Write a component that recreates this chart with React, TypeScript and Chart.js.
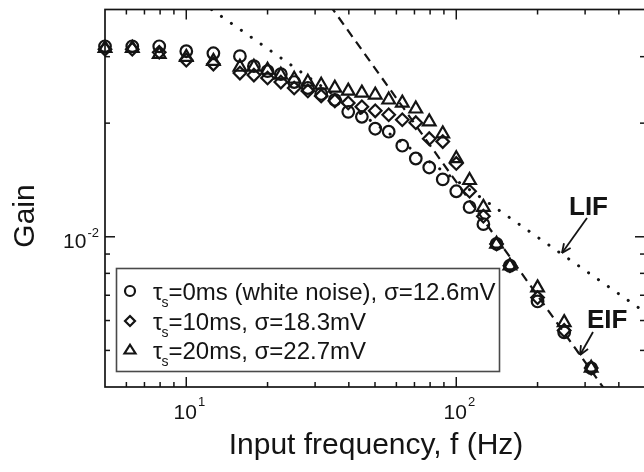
import React, { useEffect, useRef } from 'react';
import { Chart, registerables } from 'chart.js';

Chart.register(...registerables);

// ---------- data ----------
const freqs = [5, 6.31, 7.94, 10, 12.6, 15.8, 17.8, 20, 22.4, 25.1, 28.2, 31.6, 35.5, 39.8, 44.7, 50.1, 56.2, 63.1, 70.8, 79.4, 89.1, 100, 112, 126, 141, 158, 200, 251, 316];
const gainTau0 = [0.03196, 0.03196, 0.03196, 0.03101, 0.03063, 0.03009, 0.02831, 0.02747, 0.02698, 0.0257, 0.02478, 0.0239, 0.02305, 0.02143, 0.02079, 0.01933, 0.01898, 0.01743, 0.01612, 0.01526, 0.01419, 0.0132, 0.01198, 0.0108, 0.00957, 0.00838, 0.00674, 0.00558, 0.00449];
const gainTau10 = [0.03139, 0.03139, 0.03082, 0.02937, 0.02867, 0.02715, 0.02682, 0.02634, 0.0257, 0.02478, 0.02434, 0.02361, 0.02291, 0.02263, 0.0221, 0.02156, 0.02105, 0.02042, 0.02005, 0.01819, 0.01787, 0.01564, 0.0132, 0.01134, 0.00957, 0.00838, 0.0069, 0.00565, 0.00449];
const gainTau20 = [0.03159, 0.03159, 0.03045, 0.02991, 0.02919, 0.02815, 0.02815, 0.02764, 0.02682, 0.02618, 0.0257, 0.02524, 0.02478, 0.02434, 0.02405, 0.02376, 0.02305, 0.02263, 0.02182, 0.02018, 0.01876, 0.01612, 0.01411, 0.01198, 0.00957, 0.00838, 0.00733, 0.00593, 0.00449];

// theory asymptotes (end points of straight log-log lines)
const lifFreq = [12.4, 520];
const lifGain = [0.04, 0.00619];
const eifFreq = [34, 360];
const eifGain = [0.0411, 0.00388];

const legendLabels = [
  ['=0ms (white noise), \u03c3=12.6mV'],
  ['=10ms, \u03c3=18.3mV'],
  ['=20ms, \u03c3=22.7mV'],
];
const xMajorTicks = [10, 100];
const xMajorExps = ['1', '2'];
const xMinorTicks = [6, 7, 8, 9, 20, 30, 40, 50, 60, 70, 80, 90, 200, 300, 400];
const yMajorTicks = [0.01];
const yMajorExps = ['-2'];
const yMinorTicks = [0.005, 0.006, 0.007, 0.008, 0.009, 0.02, 0.03];

const W = 660;
const H = 472;
const INK = '#141414';
const FONT = '"Liberation Sans", Arial, Helvetica, sans-serif';

const toXY = (xs: number[], ys: number[]) => xs.map((v, i) => ({ x: v, y: ys[i] }));

function line(ctx: CanvasRenderingContext2D, x1: number, y1: number, x2: number, y2: number) {
  ctx.beginPath();
  ctx.moveTo(x1, y1);
  ctx.lineTo(x2, y2);
  ctx.stroke();
}

function arrow(ctx: CanvasRenderingContext2D, x1: number, y1: number, x2: number, y2: number) {
  line(ctx, x1, y1, x2, y2);
  const ang = Math.atan2(y2 - y1, x2 - x1);
  const L = 10;
  const s = 0.42;
  line(ctx, x2, y2, x2 - L * Math.cos(ang - s), y2 - L * Math.sin(ang - s));
  line(ctx, x2, y2, x2 - L * Math.cos(ang + s), y2 - L * Math.sin(ang + s));
}

function drawMarker(ctx: CanvasRenderingContext2D, kind: string, x: number, y: number, r: number) {
  ctx.beginPath();
  if (kind === 'circle') {
    ctx.arc(x, y, r, 0, Math.PI * 2);
  } else if (kind === 'diamond') {
    ctx.moveTo(x, y - r);
    ctx.lineTo(x + r, y);
    ctx.lineTo(x, y + r);
    ctx.lineTo(x - r, y);
    ctx.closePath();
  } else {
    const h = r * 1.6;
    ctx.moveTo(x, y - h * 0.6);
    ctx.lineTo(x + r, y + h * 0.4);
    ctx.lineTo(x - r, y + h * 0.4);
    ctx.closePath();
  }
  ctx.stroke();
}

const overlay = {
  id: 'overlay',
  afterDraw(chart: any) {
    const { ctx, chartArea: a } = chart;
    const xs = chart.scales.x;
    const ys = chart.scales.y;
    ctx.save();
    ctx.strokeStyle = INK;
    ctx.fillStyle = INK;
    ctx.lineWidth = 1.7;
    ctx.lineCap = 'butt';
    // frame
    ctx.strokeRect(a.left, a.top, a.right - a.left, a.bottom - a.top);

    ctx.lineWidth = 1.5;
    // x ticks (bottom & top, inward)
    const xt = (v: number, len: number) => {
      const px = xs.getPixelForValue(v);
      line(ctx, px, a.bottom, px, a.bottom - len);
      line(ctx, px, a.top, px, a.top + len);
    };
    xMinorTicks.forEach((v) => xt(v, 5));
    xMajorTicks.forEach((v) => xt(v, 10));
    const yt = (v: number, len: number) => {
      const py = ys.getPixelForValue(v);
      line(ctx, a.left, py, a.left + len, py);
      line(ctx, a.right, py, a.right - len, py);
    };
    yMinorTicks.forEach((v) => yt(v, 5));
    yMajorTicks.forEach((v) => yt(v, 10));

    // tick labels
    ctx.textBaseline = 'alphabetic';
    xMajorTicks.forEach((v, i) => {
      const px = xs.getPixelForValue(v);
      ctx.font = `21px ${FONT}`;
      ctx.textAlign = 'center';
      ctx.fillText('10', px - 1, a.bottom + 32);
      const bw = ctx.measureText('10').width;
      ctx.font = `13px ${FONT}`;
      ctx.textAlign = 'left';
      ctx.fillText(xMajorExps[i], px - 1 + bw / 2 + 1, a.bottom + 19);
    });
    yMajorTicks.forEach((v, i) => {
      const py = ys.getPixelForValue(v);
      ctx.font = `13px ${FONT}`;
      ctx.textAlign = 'right';
      const right = a.left - 6;
      ctx.fillText(yMajorExps[i], right, py);
      const sw = ctx.measureText(yMajorExps[i]).width;
      ctx.font = `21px ${FONT}`;
      ctx.fillText('10', right - sw - 1, py + 11);
    });

    // axis titles
    ctx.font = `30px ${FONT}`;
    ctx.textAlign = 'center';
    ctx.textBaseline = 'middle';
    ctx.fillText('Input frequency, f (Hz)', 376, 446);
    ctx.save();
    ctx.translate(26, 216);
    ctx.rotate(-Math.PI / 2);
    ctx.fillText('Gain', 0, 0);
    ctx.restore();

    // LIF / EIF annotations
    ctx.font = `bold 26px ${FONT}`;
    ctx.textAlign = 'left';
    ctx.textBaseline = 'alphabetic';
    ctx.fillText('LIF', 569, 215);
    ctx.fillText('EIF', 587, 328);
    ctx.lineWidth = 1.8;
    arrow(ctx, 587, 218, 562, 253);
    arrow(ctx, 593, 332, 580, 355);

    // legend
    const lx = 116.5, ly = 268.5, lw = 383, lh = 103;
    ctx.fillStyle = '#fff';
    ctx.fillRect(lx, ly, lw, lh);
    ctx.strokeStyle = '#4a4a4a';
    ctx.lineWidth = 1.6;
    ctx.strokeRect(lx, ly, lw, lh);
    ctx.strokeStyle = INK;
    ctx.fillStyle = INK;
    const kinds = ['circle', 'diamond', 'triangle'];
    const rows = [291, 321, 350];
    rows.forEach((cy, i) => {
      ctx.lineWidth = 2.2;
      drawMarker(ctx, kinds[i], 130, cy, kinds[i] === 'circle' ? 5 : kinds[i] === 'diamond' ? 5 : 5.5);
      const base = cy + 8.5;
      ctx.font = `24px ${FONT}`;
      ctx.textAlign = 'left';
      ctx.fillText('\u03c4', 153, base);
      let x = 153 + ctx.measureText('\u03c4').width;
      ctx.font = `14px ${FONT}`;
      ctx.fillText('s', x - 1, base + 7);
      x += ctx.measureText('s').width - 1;
      ctx.font = `24px ${FONT}`;
      ctx.fillText(legendLabels[i][0], x, base);
    });
    ctx.restore();
  },
};

export default function App() {
  const ref = useRef<HTMLCanvasElement | null>(null);
  useEffect(() => {
    if (!ref.current) return;
    const markerCommon = {
      showLine: false,
      borderColor: INK,
      backgroundColor: 'rgba(0,0,0,0)',
      pointBorderWidth: 2.2,
      clip: false as any,
    };
    const chart = new Chart(ref.current, {
      type: 'scatter',
      data: {
        datasets: [
          {
            label: 'LIF',
            data: toXY(lifFreq, lifGain),
            showLine: true,
            borderColor: INK,
            borderWidth: 3,
            borderDash: [0.1, 12],
            borderCapStyle: 'round',
            pointRadius: 0,
          } as any,
          {
            label: 'EIF',
            data: toXY(eifFreq, eifGain),
            showLine: true,
            borderColor: INK,
            borderWidth: 2.2,
            borderDash: [9, 6],
            pointRadius: 0,
          } as any,
          { ...markerCommon, label: 'tau0', data: toXY(freqs, gainTau0), pointStyle: 'circle', pointRadius: 5.8 },
          { ...markerCommon, label: 'tau10', data: toXY(freqs, gainTau10), pointStyle: 'rectRot', pointRadius: 6.3 },
          { ...markerCommon, label: 'tau20', data: toXY(freqs, gainTau20), pointStyle: 'triangle', pointRadius: 7.3 },
        ],
      },
      options: {
        responsive: false,
        animation: false,
        devicePixelRatio: 1,
        layout: { padding: { left: 0, right: W - 645, top: 7, bottom: 0 } },
        plugins: { legend: { display: false }, tooltip: { enabled: false } },
        scales: {
          x: {
            type: 'logarithmic',
            min: 5,
            max: 500,
            grid: { display: false },
            border: { display: false },
            ticks: { display: false },
            afterFit: (s: any) => { s.height = H - 387; },
          },
          y: {
            type: 'logarithmic',
            min: 0.004,
            max: 0.04,
            grid: { display: false },
            border: { display: false },
            ticks: { display: false },
            afterFit: (s: any) => { s.width = 105; },
          },
        },
      } as any,
      plugins: [overlay],
    });
    return () => chart.destroy();
  }, []);
  return (
    <div style={{ position: 'fixed', left: 0, top: 0, width: 644, height: 472, overflow: 'hidden', background: '#fff' }}>
      <canvas ref={ref} width={W} height={H} style={{ width: W, height: H, display: 'block' }} />
    </div>
  );
}
